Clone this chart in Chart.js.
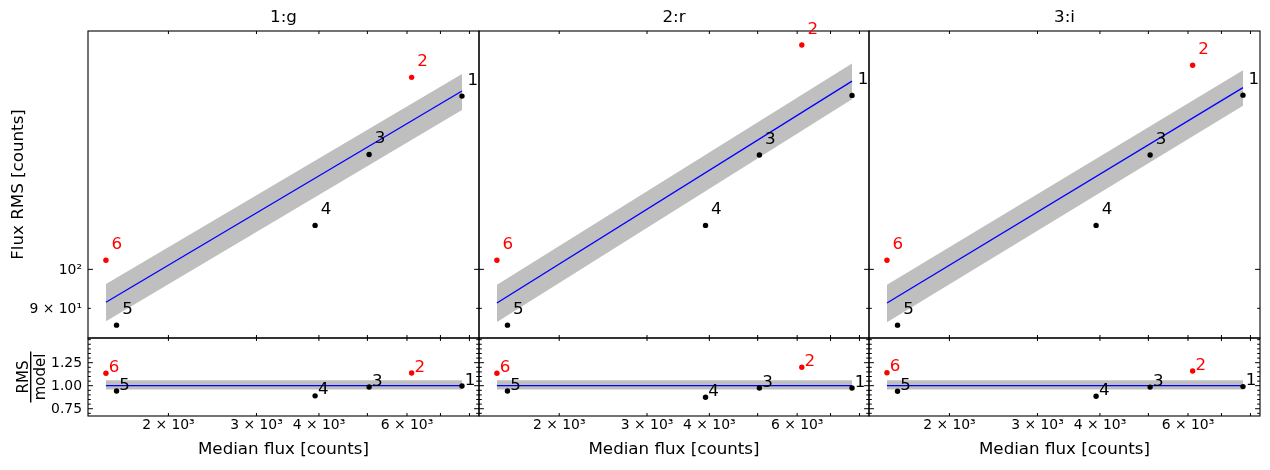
<!DOCTYPE html>
<html><head><meta charset="utf-8">
<script src="https://cdn.jsdelivr.net/npm/chart.js@4.4.1/dist/chart.umd.min.js"></script>
<style>
html,body{margin:0;padding:0;background:#fff;}
#fig{position:relative;width:1270px;height:470px;overflow:hidden;background:#fff;}
#fig canvas{position:absolute;left:0;top:0;}
</style></head><body>
<div id="fig"></div>
<script>
// ---------------- data ----------------
const panelTitles = ['1:g', '2:r', '3:i'];
const pointLabels = ['1', '2', '3', '4', '5', '6'];
const pointIsOutlier = [false, true, false, false, false, true];
const medianFlux = [7730, 6130, 5040, 3930, 1575, 1500];
const rmsG = [159.7, 168.0, 136.4, 112.6, 86.0, 102.5];
const rmsR = [160.0, 183.3, 136.2, 112.6, 86.0, 102.5];
const rmsI = [160.1, 173.6, 136.2, 112.6, 86.0, 102.5];
const ratioG = [0.997, 1.138, 0.986, 0.89, 0.942, 1.135];
const ratioR = [0.975, 1.200, 0.975, 0.874, 0.942, 1.135];
const ratioI = [0.99, 1.16, 0.985, 0.885, 0.94, 1.14];
const fitG = [91.5, 161.9];
const fitR = [91.3, 166.3];
const fitI = [91.3, 163.4];
const fitUpperG = [96.1, 169.5];
const fitLowerG = [86.9, 153.8];
const fitUpperR = [95.9, 174.4];
const fitLowerR = [86.7, 158.3];
const fitUpperI = [95.9, 171.3];
const fitLowerI = [86.7, 155.6];
const ratioFit = [1.0, 1.0];
const ratioUpper = [1.06, 1.06];
const ratioLower = [0.96, 0.96];
const xRange = [1381, 8360];
const rmsRange = [83.07, 190.4];
const ratioRange = [0.671, 1.518];
const xTickValues = [2000, 3000, 4000, 6000];
const xTickLabels = ['2 × 10³', '3 × 10³', '4 × 10³', '6 × 10³'];
const xMinorTickValues = [5000, 7000, 8000];
const rmsTickValues = [90, 100];
const rmsTickLabels = ['9 × 10¹', '10²'];
const rmsMajorTickValues = [100];
const ratioTickValues = [0.75, 1.00, 1.25];
const ratioTickLabels = ['0.75', '1.00', '1.25'];
const ratioMinorTickValues = [0.70, 0.80, 0.85, 0.90, 0.95, 1.05, 1.10, 1.15, 1.20, 1.30, 1.35, 1.40, 1.45, 1.50];

// ---------------- layout ----------------
const W = 1270, H = 470;
const FONT = "'DejaVu Sans', sans-serif";
const colLeft = [88, 479, 869];
const colRight = [479, 869, 1260];
const topRowTop = 31, rowSplit = 338, bottomRowBottom = 416;

Chart.defaults.font.family = FONT;
Chart.defaults.color = '#000';

const fig = document.getElementById('fig');

function makeChart(col, row) {
  const isTop = row === 0;
  const canvas = document.createElement('canvas');
  canvas.width = W; canvas.height = H;
  canvas.style.width = W + 'px'; canvas.style.height = H + 'px';
  fig.appendChild(canvas);

  const yVals = isTop ? [rmsG, rmsR, rmsI][col] : [ratioG, ratioR, ratioI][col];
  const fit = isTop ? [fitG, fitR, fitI][col] : ratioFit;
  const up = isTop ? [fitUpperG, fitUpperR, fitUpperI][col] : ratioUpper;
  const lo = isTop ? [fitLowerG, fitLowerR, fitLowerI][col] : ratioLower;
  const xLo = Math.min(...medianFlux), xHi = Math.max(...medianFlux);
  const pts = flag => medianFlux.map((x, i) => ({x: x, y: yVals[i], i: i})).filter(p => pointIsOutlier[p.i] === flag);
  const seg = arr => [{x: xLo, y: arr[0]}, {x: xHi, y: arr[1]}];

  const yTicks = isTop ? rmsTickValues : ratioTickValues;
  const yLabels = isTop ? rmsTickLabels : ratioTickLabels;

  const decor = {
    id: 'decor' + col + row,
    afterDatasetsDraw(chart) {
      const ctx = chart.ctx, a = chart.chartArea, xs = chart.scales.x, ys = chart.scales.y;
      ctx.save();
      ctx.strokeStyle = '#000';
      ctx.lineWidth = 1;
      ctx.beginPath();
      xTickValues.concat(xMinorTickValues).forEach(v => {
        const px = xs.getPixelForValue(v);
        ctx.moveTo(px, a.top); ctx.lineTo(px, a.top + 3);
        ctx.moveTo(px, a.bottom); ctx.lineTo(px, a.bottom - 3);
      });
      const majors = isTop ? rmsMajorTickValues : ratioTickValues;
      const allY = isTop ? rmsTickValues : ratioTickValues.concat(ratioMinorTickValues);
      allY.forEach(v => {
        const py = ys.getPixelForValue(v);
        const len = majors.indexOf(v) >= 0 ? 4.9 : 2.8;
        ctx.moveTo(a.left, py); ctx.lineTo(a.left + len, py);
        ctx.moveTo(a.right, py); ctx.lineTo(a.right - len, py);
      });
      ctx.stroke();
      ctx.lineWidth = 1.1;
      ctx.strokeRect(a.left, a.top, a.right - a.left, a.bottom - a.top);

      // point annotations
      ctx.font = '16.7px ' + FONT;
      ctx.textAlign = 'left';
      ctx.textBaseline = 'alphabetic';
      const dx = isTop ? 5.6 : 2.8, dy = isTop ? -11.1 : -1.4;
      medianFlux.forEach((xv, i) => {
        const px = xs.getPixelForValue(xv), py = ys.getPixelForValue(yVals[i]);
        ctx.fillStyle = pointIsOutlier[i] ? '#ff0000' : '#000';
        ctx.fillText(pointLabels[i], px + dx, py + dy);
      });

      ctx.fillStyle = '#000';
      if (isTop) {
        ctx.font = '16.7px ' + FONT;
        ctx.textAlign = 'center';
        ctx.textBaseline = 'middle';
        ctx.fillText(panelTitles[col], (a.left + a.right) / 2, 17.8);
      }
      if (!isTop && col === 0) {
        ctx.translate(30.7, (a.top + a.bottom) / 2);
        ctx.rotate(-Math.PI / 2);
        ctx.font = '15px ' + FONT;
        ctx.textAlign = 'center';
        ctx.textBaseline = 'alphabetic';
        ctx.fillText('RMS', 0, -2.6);
        ctx.fillText('model', 0, 14.2);
        ctx.lineWidth = 1.4;
        ctx.beginPath();
        ctx.moveTo(-25.5, 0); ctx.lineTo(25.5, 0);
        ctx.stroke();
      }
      ctx.restore();
    }
  };

  return new Chart(canvas, {
    type: 'scatter',
    data: {
      datasets: [
        {data: pts(true), backgroundColor: '#ff0000', borderWidth: 0, pointRadius: 2.7, pointHoverRadius: 2.7, order: 0},
        {data: pts(false), backgroundColor: '#000000', borderWidth: 0, pointRadius: 2.7, pointHoverRadius: 2.7, order: 0},
        {type: 'line', data: seg(fit), borderColor: '#0000ff', borderWidth: 1.3, pointRadius: 0, fill: false, tension: 0, order: 1},
        {type: 'line', data: seg(up), borderWidth: 0, borderColor: 'rgba(0,0,0,0)', pointRadius: 0, fill: '+1', backgroundColor: 'rgb(191,191,191)', tension: 0, order: 2},
        {type: 'line', data: seg(lo), borderWidth: 0, borderColor: 'rgba(0,0,0,0)', pointRadius: 0, fill: false, tension: 0, order: 3}
      ]
    },
    options: {
      responsive: false,
      maintainAspectRatio: false,
      animation: false,
      devicePixelRatio: 1,
      events: [],
      layout: {padding: {
        left: col === 0 ? 0 : colLeft[col],
        right: W - colRight[col],
        top: isTop ? topRowTop : rowSplit,
        bottom: isTop ? H - rowSplit : 0
      }},
      plugins: {legend: {display: false}, tooltip: {enabled: false}, title: {display: false}},
      scales: {
        x: {
          type: 'logarithmic', position: 'bottom', min: xRange[0], max: xRange[1],
          afterBuildTicks: s => { s.ticks = xTickValues.map(v => ({value: v})); },
          ticks: {display: !isTop, autoSkip: false, maxRotation: 0, minRotation: 0, padding: 1,
                  color: '#000', font: {size: 13.9, family: FONT}, callback: (v, i) => xTickLabels[i]},
          grid: {display: false, drawTicks: false}, border: {display: false},
          title: {display: !isTop, text: 'Median flux [counts]', color: '#000',
                  font: {size: 16.7, family: FONT}, padding: {top: 0, bottom: 10.8}},
          afterFit: s => { s.height = isTop ? 0 : (H - bottomRowBottom); }
        },
        y: {
          type: isTop ? 'logarithmic' : 'linear', position: 'left',
          min: isTop ? rmsRange[0] : ratioRange[0], max: isTop ? rmsRange[1] : ratioRange[1],
          afterBuildTicks: s => { s.ticks = yTicks.map(v => ({value: v})); },
          ticks: {display: col === 0, autoSkip: false, padding: 6, labelOffset: 1, color: '#000',
                  font: {size: 13.9, family: FONT}, callback: (v, i) => yLabels[i]},
          grid: {display: false, drawTicks: false}, border: {display: false},
          title: {display: col === 0 && isTop, text: 'Flux RMS [counts]', color: '#000',
                  font: {size: 16.7, family: FONT}, padding: {top: 8.4, bottom: 0}},
          afterFit: s => { s.width = col === 0 ? colLeft[0] : 0; }
        }
      }
    },
    plugins: [decor]
  });
}

for (let c = 0; c < 3; c++) { makeChart(c, 0); makeChart(c, 1); }
</script>
</body></html>
